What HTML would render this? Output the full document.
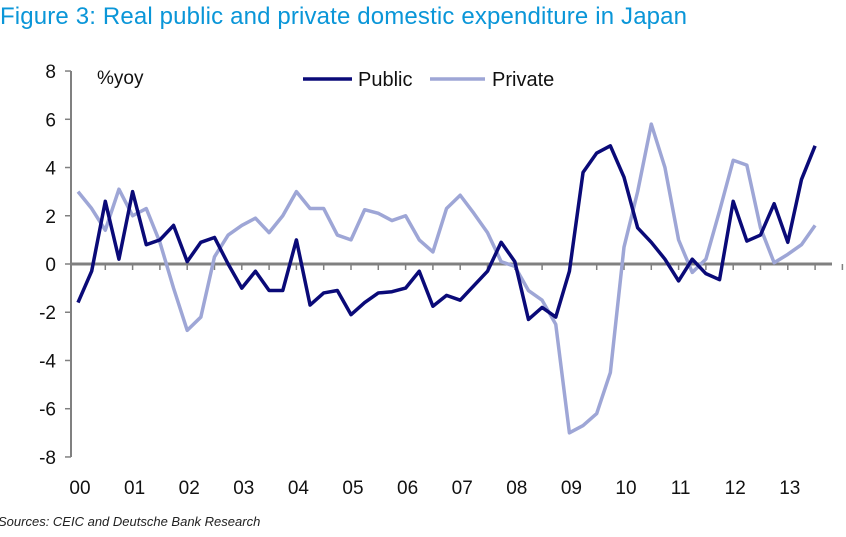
<!DOCTYPE html>
<html><head><meta charset="utf-8"><style>
body{margin:0;background:#fff;font-family:"Liberation Sans",sans-serif;}
</style></head><body>
<div style="position:relative;width:846px;height:537px;overflow:hidden">
<div style="position:absolute;left:0;top:3px;font-size:24px;letter-spacing:0.15px;color:#0a96d8;white-space:nowrap">Figure 3: Real public and private domestic expenditure in Japan</div>
<svg id="chart" width="846" height="537" style="position:absolute;left:0;top:0"></svg>
<div style="position:absolute;left:-2px;top:514px;font-size:13px;font-style:italic;color:#222">Sources: CEIC and Deutsche Bank Research</div>
</div>
<script>
const yTicks=[8,6,4,2,0,-2,-4,-6,-8];
const yearLabels=["00","01","02","03","04","05","06","07","08","09","10","11","12","13"];
const publicVals=[-1.6,-0.3,2.6,0.2,3.0,0.8,1.0,1.6,0.1,0.9,1.1,0.0,-1.0,-0.3,-1.1,-1.1,1.0,-1.7,-1.2,-1.1,-2.1,-1.6,-1.2,-1.15,-1.0,-0.3,-1.75,-1.3,-1.5,-0.9,-0.3,0.9,0.1,-2.3,-1.8,-2.2,-0.3,3.8,4.6,4.9,3.6,1.5,0.9,0.2,-0.7,0.2,-0.4,-0.65,2.6,0.95,1.2,2.5,0.9,3.5,4.9];
const privateVals=[3.0,2.3,1.4,3.1,2.0,2.3,0.9,-1.0,-2.75,-2.2,0.3,1.2,1.6,1.9,1.3,2.0,3.0,2.3,2.3,1.2,1.0,2.25,2.1,1.8,2.0,1.0,0.5,2.3,2.85,2.1,1.3,0.1,-0.1,-1.1,-1.5,-2.5,-7.0,-6.7,-6.2,-4.5,0.7,3.0,5.8,4.0,1.0,-0.35,0.2,2.2,4.3,4.1,1.5,0.05,0.4,0.8,1.6];
const svg=document.getElementById('chart');const NS='http://www.w3.org/2000/svg';
const X0=78,QW=13.65,Y0=264,U=24.12;
const xq=i=>X0+i*QW; const y=v=>Y0-v*U;
function mk(t,a){const e=document.createElementNS(NS,t);for(const k in a)e.setAttribute(k,a[k]);svg.appendChild(e);return e;}
let ax=mk('line',{x1:71,y1:y(8),x2:71,y2:y(-8),stroke:'#808080','stroke-width':2});


yTicks.forEach(v=>{
 const t=mk('line',{x1:65,x2:71,y1:y(v),y2:y(v),stroke:'#808080','stroke-width':1.5});
 
 
 const l=mk('text',{x:56,y:y(v)+7,'text-anchor':'end','font-size':19,fill:'#111','font-family':'Liberation Sans, sans-serif'});l.textContent=v;
 
 
});
for(let i=2;i<=56;i+=2){
 const t=mk('line',{x1:xq(i),x2:xq(i),y1:Y0,y2:Y0+6,stroke:'#808080','stroke-width':1.5});
 
 
}
yearLabels.forEach((s,i)=>{
 const l=mk('text',{x:xq(i*4)+2,y:494,'text-anchor':'middle','font-size':19,fill:'#111','font-family':'Liberation Sans, sans-serif'});l.textContent=s;
 
 
});
const za=mk('line',{x1:71,x2:832,y1:Y0,y2:Y0,stroke:'#808080','stroke-width':3});


function series(vals,col,name){
 const p=mk('polyline',{points:vals.map((v,i)=>xq(i)+','+y(v)).join(' '),fill:'none',stroke:col,'stroke-width':3.5,'stroke-linejoin':'round'});
 
 
}
series(privateVals,'#9ea6d6','private-line');
series(publicVals,'#0a0a78','public-line');
const u=mk('text',{x:97,y:84,'font-size':19,fill:'#111','font-family':'Liberation Sans, sans-serif'});u.textContent='%yoy';


[[303,352,358,'Public','#0a0a78'],[430,485,492,'Private','#9ea6d6']].forEach(d=>{
 const l=mk('line',{x1:d[0],x2:d[1],y1:79,y2:79,stroke:d[4],'stroke-width':3.5});
 
 
 const t=mk('text',{x:d[2],y:86,'font-size':20,fill:'#111','font-family':'Liberation Sans, sans-serif'});t.textContent=d[3];
 
 
});
</script>
</body></html>
